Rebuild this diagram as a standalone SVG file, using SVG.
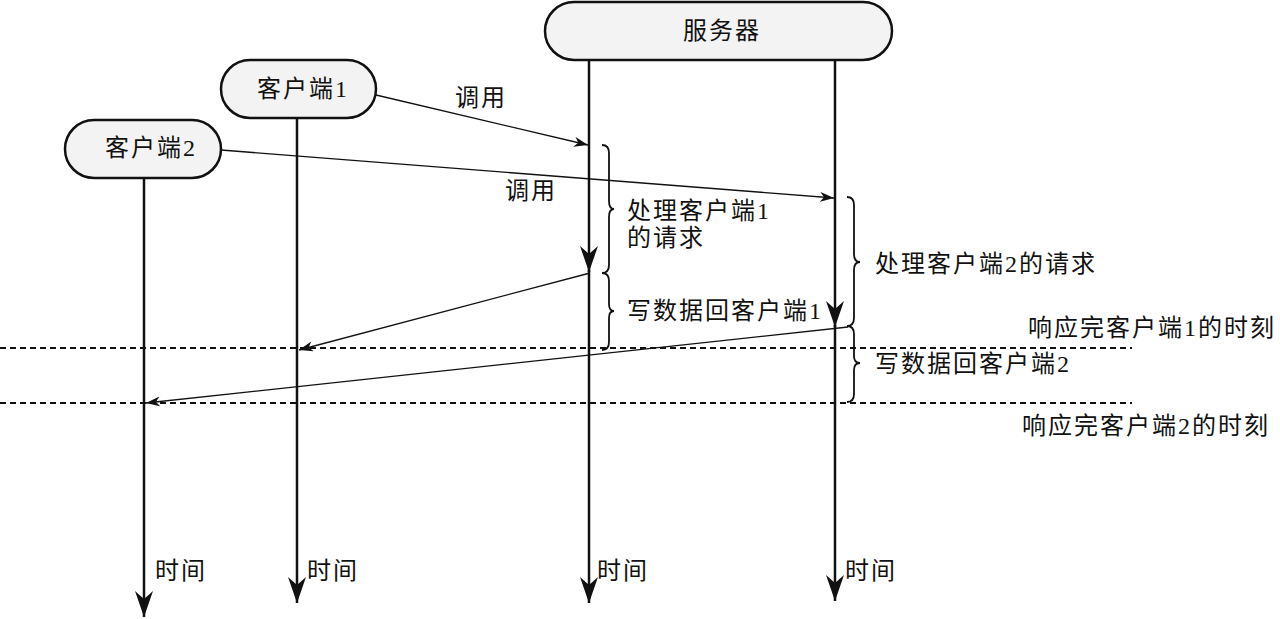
<svg xmlns="http://www.w3.org/2000/svg" width="1280" height="619" viewBox="0 0 1280 619">
<style>
.box{fill:#f3f3f3;stroke:#111;stroke-width:2.5}
.t{font-family:"Liberation Serif","Noto Sans CJK SC",serif;font-size:24px;letter-spacing:2px;fill:#111}
.life{stroke:#111;stroke-width:2.5;fill:none}
.msg{stroke:#111;stroke-width:1.3;fill:none}
.brace{stroke:#111;stroke-width:1.8;fill:none}
.dash{stroke:#111;stroke-width:2;stroke-dasharray:6 4;fill:none}
</style>
<defs>
<marker id="big" markerUnits="userSpaceOnUse" markerWidth="28" markerHeight="20" refX="26" refY="9" orient="auto">
<path d="M0,0 L26,9 L0,18 L8,9 Z" fill="#111"/>
</marker>
<marker id="small" markerUnits="userSpaceOnUse" markerWidth="16" markerHeight="12" refX="14" refY="5" orient="auto">
<path d="M0,0 L14,5 L0,10 L4,5 Z" fill="#111"/>
</marker>
</defs>
<rect width="1280" height="619" fill="#fff"/>
<g id="connectors">
<line class="life" x1="144" y1="178" x2="144" y2="617" marker-end="url(#big)"/>
<line class="life" x1="297" y1="118" x2="297" y2="603" marker-end="url(#big)"/>
<line class="life" x1="589" y1="60" x2="589" y2="272" marker-end="url(#big)"/>
<line class="life" x1="589" y1="270" x2="589" y2="603" marker-end="url(#big)"/>
<line class="life" x1="835" y1="60" x2="835" y2="327" marker-end="url(#big)"/>
<line class="life" x1="835" y1="325" x2="835" y2="601" marker-end="url(#big)"/>
<line class="msg" x1="376" y1="95" x2="588" y2="145" marker-end="url(#small)"/>
<line class="msg" x1="221" y1="150" x2="834" y2="198" marker-end="url(#small)"/>
<line class="msg" x1="590" y1="273" x2="299" y2="350" marker-end="url(#small)"/>
<line class="msg" x1="848" y1="327" x2="146" y2="403" marker-end="url(#small)"/>
<line class="dash" x1="0" y1="348" x2="1132" y2="348"/>
<line class="dash" x1="0" y1="403" x2="1132" y2="403"/>
<path class="brace" d="M602,145 Q609,145 609,153 L609,201 Q609,209 614,209 Q609,209 609,217 L609,265 Q609,273 602,273"/>
<path class="brace" d="M602,273 Q609,273 609,281 L609,304 Q609,311 614,311 Q609,311 609,318 L609,342 Q609,350 602,350"/>
<path class="brace" d="M847,197 Q854,197 854,205 L854,254 Q854,262 860,262 Q854,262 854,270 L854,318 Q854,326 847,326"/>
<path class="brace" d="M847,326 Q854,326 854,334 L854,356 Q854,363 860,363 Q854,363 854,370 L854,394 Q854,402 847,402"/>
</g>
<g id="server">
<rect class="box" x="545" y="2" width="347" height="58" rx="29"/>
<text class="t" x="683" y="39">服务器</text>
</g>
<g id="client1">
<rect class="box" x="221" y="60" width="155" height="58" rx="29"/>
<text class="t" x="257" y="97">客户端1</text>
</g>
<g id="client2">
<rect class="box" x="65" y="120" width="156" height="58" rx="29"/>
<text class="t" x="105" y="156">客户端2</text>
</g>
<g id="labels">
<text class="t" x="455" y="106">调用</text>
<text class="t" x="505" y="199">调用</text>
<text class="t" x="627" y="219">处理客户端1</text>
<text class="t" x="627" y="246">的请求</text>
<text class="t" x="627" y="319">写数据回客户端1</text>
<text class="t" x="875" y="272">处理客户端2的请求</text>
<text class="t" x="875" y="372">写数据回客户端2</text>
<text class="t" x="1028" y="336">响应完客户端1的时刻</text>
<text class="t" x="1022" y="434">响应完客户端2的时刻</text>
<text class="t" x="155" y="579">时间</text>
<text class="t" x="307" y="579">时间</text>
<text class="t" x="597" y="579">时间</text>
<text class="t" x="845" y="579">时间</text>
</g>
</svg>
